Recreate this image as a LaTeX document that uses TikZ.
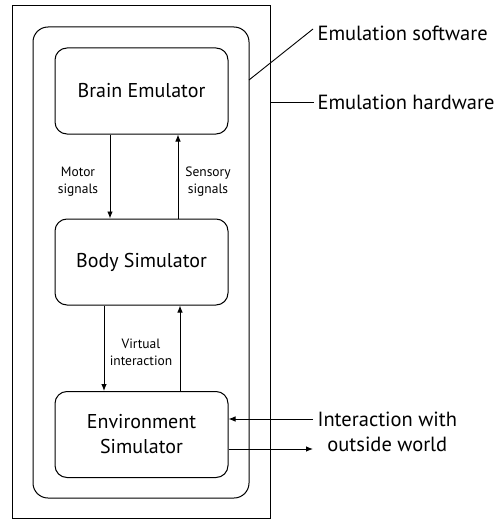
\documentclass[tikz,border=0pt]{standalone}
\usepackage{fontspec}
\setmainfont{PT Sans}
\usetikzlibrary{arrows.meta}
\tikzset{
    box/.style={draw, rounded corners=12pt, minimum width=173pt, minimum height=86pt,
        align=center, font=\fontsize{20}{25}\selectfont, line width=1pt},
    note/.style={align=center, font=\fontsize{13.5}{17}\selectfont},
    side/.style={anchor=west, align=center, font=\fontsize{20.5}{25}\selectfont},
    flow/.style={-{Latex[length=7pt,width=5.5pt]}, line width=0.9pt}
}
\begin{document}
\begin{tikzpicture}[x=1pt, y=-1pt]
    \useasboundingbox (0,0) rectangle (502,519);

    % Frames
    \node[draw, line width=0.9pt, minimum width=258pt, minimum height=513pt, inner sep=0pt] (hw) at (141,261.5) {};
    \node[draw, line width=1pt, rounded corners=15pt, minimum width=216pt, minimum height=471pt, inner sep=0pt] (sw) at (141,262.5) {};

    % Boxes
    \node[box] (brain) at (141.5,91) {Brain Emulator};
    \node[box] (body) at (141.5,262) {Body Simulator};
    \node[box] (env) at (141.5,434.5) {Environment\\Simulator};

    % Arrow labels
    \node[note] (motor) at (78,182) {Motor\\signals};
    \node[note] (sensory) at (208,182) {Sensory\\signals};
    \node[note] (virtual) at (141,352.5) {Virtual\\interaction};

    % Side labels
    \node[side] (swlabel) at (314,33) {Emulation software};
    \node[side] (hwlabel) at (314,102) {Emulation hardware};
    \node[side] (outside) at (314,432) {Interaction with\\outside world};

    % Leaders
    \coordinate (swpt) at (249,80);
    \coordinate (swend) at (313,29);
    \coordinate (hwpt) at (270,102);
    \coordinate (inpt) at (313,419);
    \coordinate (outpt) at (313,449);
    \draw[line width=0.9pt] (swpt) -- (swend);
    \draw[line width=0.9pt] (hwpt) -- (hwlabel.west);

    % Edges
    \draw[flow] ([xshift=-31.5pt]brain.south) -- ([xshift=-31.5pt]body.north);
    \draw[flow] ([xshift=36.5pt]body.north) -- ([xshift=36.5pt]brain.south);
    \draw[flow] ([xshift=-37.5pt]body.south) -- ([xshift=-37.5pt]env.north);
    \draw[flow] ([xshift=38.5pt]env.north) -- ([xshift=38.5pt]body.south);
    \draw[flow] (inpt) -- (inpt -| env.east);
    \draw[flow] (outpt -| env.east) -- (outpt);
\end{tikzpicture}
\end{document}
